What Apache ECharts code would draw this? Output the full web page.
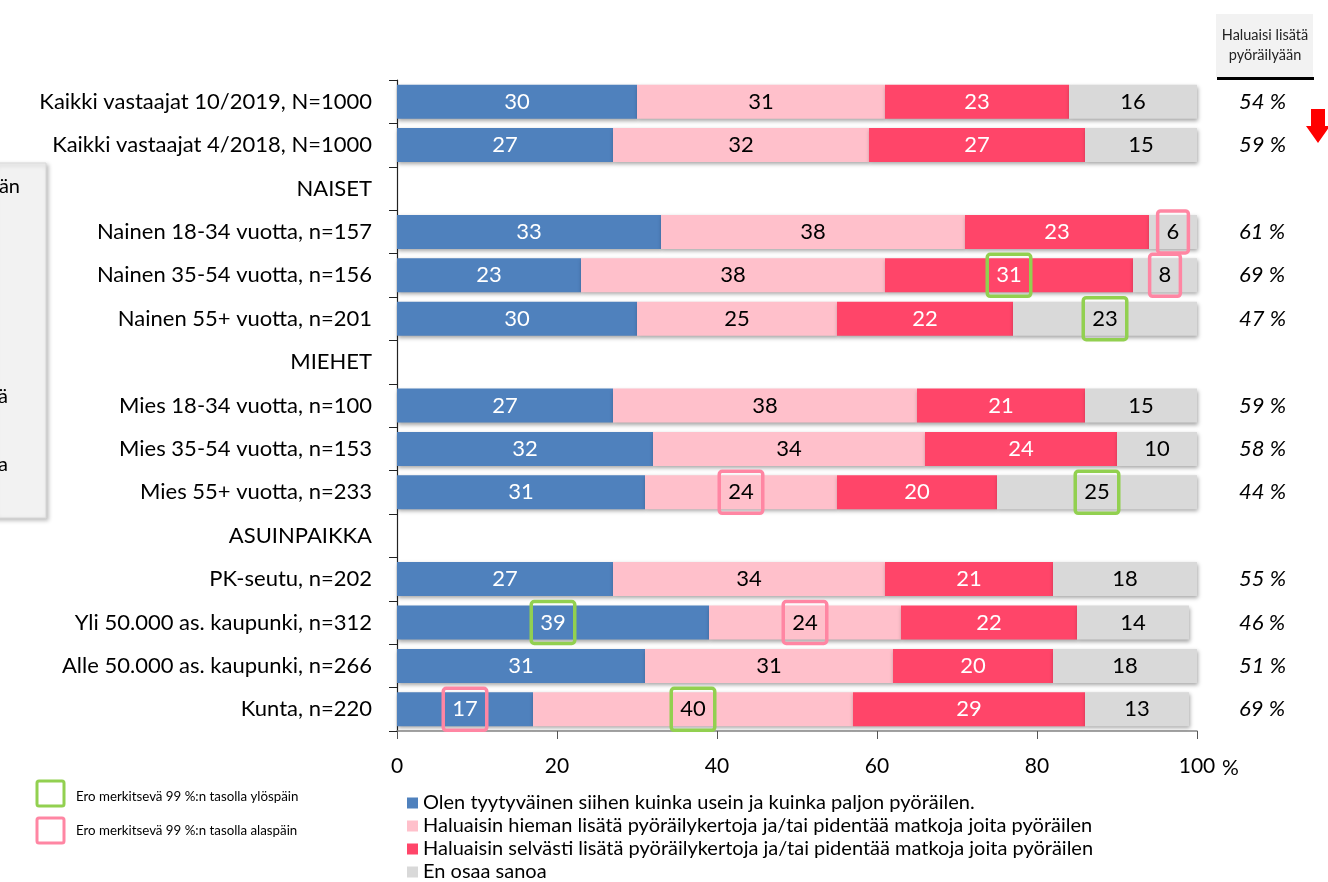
<!DOCTYPE html>
<html>
<head>
<meta charset="utf-8">
<script src="https://cdn.jsdelivr.net/npm/echarts@6/dist/echarts.min.js"></script>
<style>
  html, body { margin: 0; padding: 0; background: #fff; }
  #chart { width: 1328px; height: 882px; }
</style>
</head>
<body>
<div id="chart"></div>
<script>
// rivit ylhäältä alas, otsikkorivit ilman palkkeja
const categories = [
  "Kaikki vastaajat 10/2019, N=1000",
  "Kaikki vastaajat 4/2018, N=1000",
  "NAISET",
  "Nainen 18-34 vuotta, n=157",
  "Nainen 35-54 vuotta, n=156",
  "Nainen 55+ vuotta, n=201",
  "MIEHET",
  "Mies 18-34 vuotta, n=100",
  "Mies 35-54 vuotta, n=153",
  "Mies 55+ vuotta, n=233",
  "ASUINPAIKKA",
  "PK-seutu, n=202",
  "Yli 50.000 as. kaupunki, n=312",
  "Alle 50.000 as. kaupunki, n=266",
  "Kunta, n=220",
];
const satisfied = [30, 27, null, 33, 23, 30, null, 27, 32, 31, null, 27, 39, 31, 17];
const wantSomewhatMore = [31, 32, null, 38, 38, 25, null, 38, 34, 24, null, 34, 24, 31, 40];
const wantClearlyMore = [23, 27, null, 23, 31, 22, null, 21, 24, 20, null, 21, 22, 20, 29];
const dontKnow = [16, 15, null, 6, 8, 23, null, 15, 10, 25, null, 18, 14, 18, 13];
const wouldCycleMore = ["54 %", "59 %", "", "61 %", "69 %", "47 %", "", "59 %", "58 %", "44 %", "", "55 %", "46 %", "51 %", "69 %"];
const xTicks = [0, 20, 40, 60, 80, 100];

// merkitsevät erot: [rivi, sarja, suunta]
const significant = [
  [3, 3, "down"], [4, 2, "up"], [4, 3, "down"], [5, 3, "up"],
  [9, 1, "down"], [9, 3, "up"], [12, 0, "up"], [12, 1, "down"],
  [14, 0, "down"], [14, 1, "up"],
];

const seriesNames = [
  "Olen tyytyväinen siihen kuinka usein ja kuinka paljon pyöräilen.",
  "Haluaisin hieman lisätä pyöräilykertoja ja/tai pidentää matkoja joita pyöräilen",
  "Haluaisin selvästi lisätä pyöräilykertoja ja/tai pidentää matkoja joita pyöräilen",
  "En osaa sanoa",
];
const seriesValues = [satisfied, wantSomewhatMore, wantClearlyMore, dontKnow];
const colors = ["#4F81BD", "#FFC0CB", "#FF4569", "#D9D9D9"];
const labelColors = ["#fff", "#000", "#fff", "#000"];
const FONT = "Lato";
const UP = "#92D050";
const DOWN = "#FF86A3";

function buildData(si) {
  return seriesValues[si].map((v, row) => {
    const mark = significant.find((s) => s[0] === row && s[1] === si);
    if (!mark) return v;
    return {
      value: v,
      label: {
        borderColor: mark[2] === "up" ? UP : DOWN,
        borderWidth: 3.5,
        borderRadius: 3,
        padding: [10, 9, 10, 9],
      },
    };
  });
}

const option = {
  backgroundColor: "#fff",
  animation: false,
  textStyle: { fontFamily: FONT },
  grid: { left: 397, right: 131, top: 80, bottom: 151 },
  legend: {
    orient: "vertical",
    left: 407,
    top: 793,
    padding: 0,
    icon: "rect",
    itemWidth: 11,
    itemHeight: 11,
    itemGap: 3,
    textStyle: { fontSize: 20, color: "#000", fontFamily: FONT },
    data: seriesNames,
  },
  xAxis: {
    type: "value",
    min: 0,
    max: 100,
    interval: 20,
    axisLine: { show: true, lineStyle: { color: "#868686", width: 1.5 } },
    axisTick: { show: true, length: 8, lineStyle: { color: "#555" } },
    axisLabel: {
      margin: 25,
      fontSize: 21,
      color: "#000",
      fontFamily: FONT,
      formatter: (v) => (xTicks.includes(v) ? String(v) : ""),
    },
    splitLine: { show: false },
  },
  yAxis: [
    {
      type: "category",
      inverse: true,
      data: categories,
      axisLine: { show: true, lineStyle: { color: "#222", width: 1.2 } },
      axisTick: { show: true, length: 8, lineStyle: { color: "#222" } },
      axisLabel: { margin: 25, fontSize: 22, color: "#000", fontFamily: FONT },
    },
    {
      type: "category",
      inverse: true,
      position: "right",
      data: wouldCycleMore,
      axisLine: { show: false },
      axisTick: { show: false },
      axisLabel: {
        margin: 42,
        fontSize: 22,
        fontStyle: "italic",
        color: "#000",
        fontFamily: FONT,
      },
    },
  ],
  series: seriesNames.map((name, si) => ({
    name,
    type: "bar",
    stack: "total",
    barWidth: 34,
    itemStyle: {
      color: colors[si],
      shadowColor: "rgba(0,0,0,0.35)",
      shadowBlur: 4,
      shadowOffsetX: 1,
      shadowOffsetY: 2,
    },
    label: {
      show: true,
      position: "inside",
      fontSize: 22,
      fontFamily: FONT,
      color: labelColors[si],
    },
    data: buildData(si),
  })),
  graphic: [
    // x-akselin yksikkö
    { type: "text", x: 1222, y: 768, style: { text: "%", fontSize: 21, fontFamily: FONT, fill: "#000", verticalAlign: "middle" } },
    // vasemman reunan rajautunut laatikko
    {
      type: "rect",
      shape: { x: -6, y: 163, width: 52, height: 355 },
      style: {
        fill: "#F2F2F2",
        stroke: "#D9D9D9",
        lineWidth: 1,
        shadowColor: "rgba(0,0,0,0.25)",
        shadowBlur: 4,
        shadowOffsetX: 2,
        shadowOffsetY: 2,
      },
    },
    { type: "text", x: 20, y: 187, style: { text: "än", fontSize: 20, fontFamily: FONT, fill: "#000", align: "right", verticalAlign: "middle" } },
    { type: "text", x: 8, y: 397, style: { text: "ä", fontSize: 20, fontFamily: FONT, fill: "#000", align: "right", verticalAlign: "middle" } },
    { type: "text", x: 8, y: 465, style: { text: "a", fontSize: 20, fontFamily: FONT, fill: "#000", align: "right", verticalAlign: "middle" } },
    // oikean sarakkeen otsikko
    { type: "rect", shape: { x: 1216, y: 14, width: 97, height: 63 }, style: { fill: "#F2F2F2" } },
    {
      type: "text",
      x: 1265,
      y: 45,
      style: {
        text: "Haluaisi lisätä\npyöräilyään",
        fontSize: 14.5,
        lineHeight: 20,
        fontFamily: FONT,
        fill: "#222",
        align: "center",
        verticalAlign: "middle",
      },
    },
    { type: "rect", shape: { x: 1217, y: 77, width: 97, height: 3 }, style: { fill: "#000" } },
    // punainen nuoli
    {
      type: "polygon",
      shape: {
        points: [[1311, 109], [1325, 109], [1325, 126], [1330, 126], [1318, 143], [1306, 126], [1311, 126]],
      },
      style: { fill: "#FF0000" },
    },
    // merkitsevyyden selitteet
    { type: "rect", shape: { x: 37, y: 781, width: 27, height: 25, r: 2 }, style: { fill: "#fff", stroke: UP, lineWidth: 3 } },
    { type: "text", x: 76, y: 797, style: { text: "Ero merkitsevä 99 %:n tasolla ylöspäin", fontSize: 13.3, fontFamily: FONT, fill: "#000", verticalAlign: "middle" } },
    { type: "rect", shape: { x: 37, y: 818, width: 27, height: 25, r: 2 }, style: { fill: "#fff", stroke: DOWN, lineWidth: 3 } },
    { type: "text", x: 76, y: 831, style: { text: "Ero merkitsevä 99 %:n tasolla alaspäin", fontSize: 13.3, fontFamily: FONT, fill: "#000", verticalAlign: "middle" } },
  ],
};

const chart = echarts.init(document.getElementById("chart"), null, { renderer: "canvas" });
chart.setOption(option);
</script>
</body>
</html>
